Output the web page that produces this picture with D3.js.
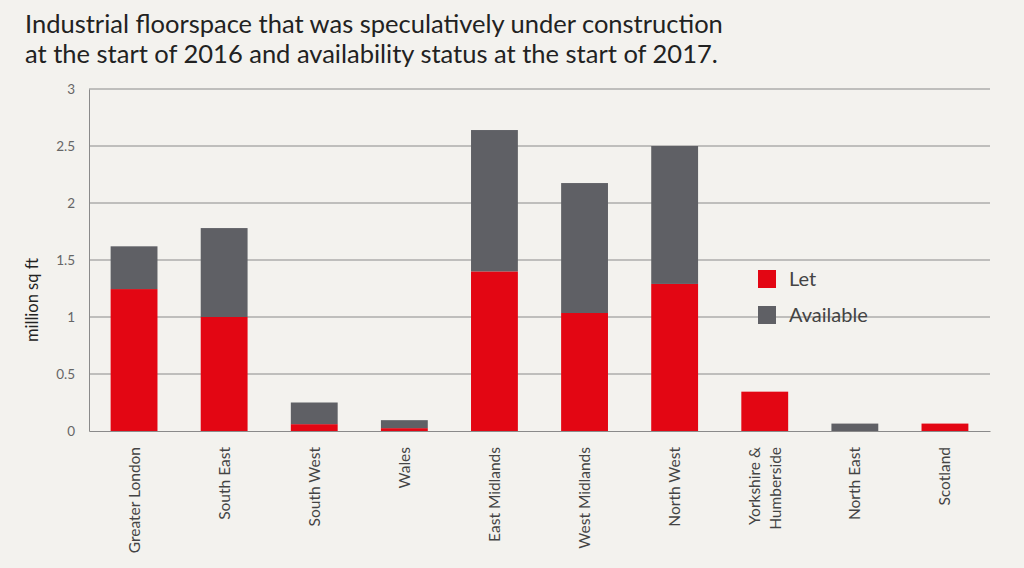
<!DOCTYPE html>
<html><head><meta charset="utf-8">
<script src="https://cdn.jsdelivr.net/npm/d3@7"></script>
<style>
html,body{margin:0;padding:0;background:#f3f2ee;}
svg{display:block;}
</style></head>
<body><svg id="c" width="1024" height="568"></svg>
<script>
const categories = ["Greater London","South East","South West","Wales","East Midlands","West Midlands","North West","Yorkshire & Humberside","North East","Scotland"];
const letValues = [1.245, 1.0, 0.06, 0.025, 1.40, 1.035, 1.29, 0.345, 0, 0.065];
const availableValues = [0.375, 0.78, 0.19, 0.07, 1.24, 1.14, 1.21, 0, 0.065, 0];
const yTicks = [0, 0.5, 1, 1.5, 2, 2.5, 3];
const seriesNames = ["Let", "Available"];
const colors = ["#e30613", "#5f6065"];
const titleLines = ["Industrial floorspace that was speculatively under construction", "at the start of 2016 and availability status at the start of 2017."];

const svg = d3.select("#c");
const m = {left: 89, right: 990, top: 89, bottom: 431};
const x = d3.scaleBand().domain(categories).range([m.left, m.right]).paddingInner(0.48).paddingOuter(0.24);
const y = d3.scaleLinear().domain([0, 3]).range([m.bottom, m.top]);

// title
svg.append("g").selectAll("text").data(titleLines).join("text")
  .attr("x", 25).attr("y", (d, i) => 33 + i * 30)
  .attr("font-family", "Lato, sans-serif").attr("font-size", 25.5).attr("fill", "#222")
  .text(d => d);

// gridlines
svg.append("g").selectAll("line").data(yTicks.filter(t => t > 0)).join("line")
  .attr("x1", m.left).attr("x2", m.right)
  .attr("y1", d => y(d)).attr("y2", d => y(d))
  .attr("stroke", "#8a8a8a").attr("stroke-width", 1);

// y axis
const yAxis = svg.append("g").attr("transform", `translate(${m.left},0)`)
  .call(d3.axisLeft(y).tickValues(yTicks).tickSize(0).tickPadding(14).tickFormat(d3.format("")));
yAxis.select(".domain").attr("stroke", "#8a8a8a");
yAxis.selectAll("text").attr("font-family", "Lato, sans-serif").attr("font-size", 13.5).attr("fill", "#666");

// stacked bars
const data = categories.map((c, i) => ({cat: c, Let: letValues[i], Available: availableValues[i]}));
const stack = d3.stack().keys(seriesNames)(data);
svg.append("g").selectAll("g").data(stack).join("g")
  .attr("fill", (d, i) => colors[i])
  .selectAll("rect").data(d => d).join("rect")
  .attr("x", d => x(d.data.cat)).attr("width", x.bandwidth())
  .attr("y", d => y(d[1])).attr("height", d => y(d[0]) - y(d[1]));

// x axis
const xAxis = svg.append("g").attr("transform", `translate(0,${m.bottom})`)
  .call(d3.axisBottom(x).tickSize(0).tickFormat(""));
xAxis.select(".domain").attr("stroke", "#8a8a8a");
xAxis.selectAll(".tick").each(function(d) {
  const g = d3.select(this);
  const parts = d === "Yorkshire & Humberside" ? ["Yorkshire &", "Humberside"] : [d];
  const t = g.append("text").attr("transform", "rotate(-90)")
    .attr("text-anchor", "end").attr("font-family", "Lato, sans-serif")
    .attr("font-size", 15.5).attr("fill", "#444");
  parts.forEach((p, i) => {
    t.append("tspan").attr("x", -16).attr("y", (i - (parts.length - 1) / 2) * 21 + 5.5).text(p);
  });
});

// y label
svg.append("text").attr("transform", "translate(38,300) rotate(-90)")
  .attr("text-anchor", "middle").attr("font-family", "Lato, sans-serif")
  .attr("font-size", 16.5).attr("fill", "#222").text("million sq ft");

// legend
const lg = svg.append("g").attr("transform", "translate(758,270)");
seriesNames.forEach((s, i) => {
  lg.append("rect").attr("x", 0).attr("y", i * 36).attr("width", 18).attr("height", 18).attr("fill", colors[i]);
  lg.append("text").attr("x", 31).attr("y", i * 36 + 16).attr("font-family", "Lato, sans-serif")
    .attr("font-size", 20).attr("fill", "#444").text(s);
});
</script></body></html>
